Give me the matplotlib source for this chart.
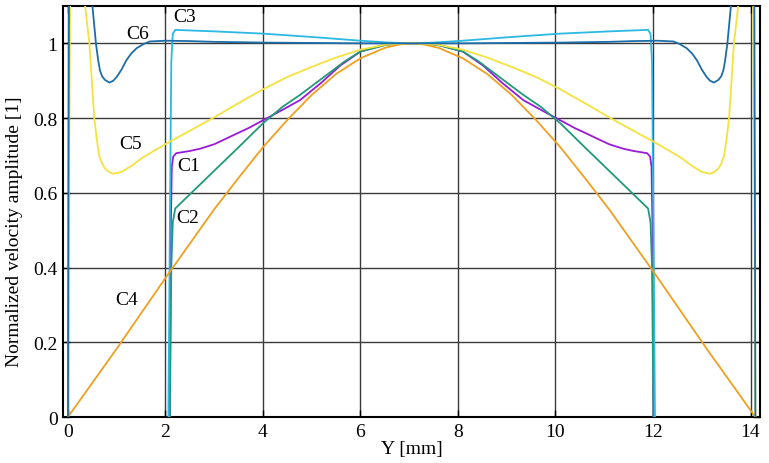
import matplotlib
matplotlib.use("Agg")
import matplotlib.pyplot as plt

# ---- data ----
c1_x = [2.09, 2.11, 2.13, 2.16, 2.22, 2.5, 2.71, 3.0, 3.39, 3.7, 4.0, 4.4, 4.76, 5.2, 5.58, 6.0, 6.5, 6.8, 7.05,
        7.3, 7.6, 8.1, 8.52, 8.9, 9.34, 9.7, 10.1, 10.4, 10.71, 11.1, 11.39, 11.6, 11.88, 11.94, 11.97, 11.99, 12.01]
c1_y = [0.0, 0.5, 0.67, 0.697, 0.706, 0.712, 0.718, 0.73, 0.754, 0.773, 0.794, 0.822, 0.848, 0.895, 0.94, 0.978, 0.996, 0.999, 1.0,
        0.999, 0.996, 0.978, 0.94, 0.895, 0.848, 0.822, 0.794, 0.773, 0.754, 0.73, 0.718, 0.712, 0.706, 0.697, 0.67, 0.5, 0.0]

c2_x = [2.09, 2.12, 2.15, 2.2, 3.0, 3.5, 4.0, 4.4, 4.76, 5.2, 5.68, 6.0, 6.5, 6.8, 7.05,
        7.3, 7.6, 8.1, 8.42, 8.9, 9.34, 9.7, 10.1, 10.6, 11.1, 11.9, 11.95, 11.98, 12.01]
c2_y = [0.0, 0.4, 0.52, 0.558, 0.659, 0.722, 0.786, 0.83, 0.862, 0.905, 0.952, 0.978, 0.995, 0.999, 1.0,
        0.999, 0.995, 0.978, 0.952, 0.905, 0.862, 0.83, 0.786, 0.722, 0.659, 0.558, 0.52, 0.4, 0.0]

c3_x = [2.06, 2.09, 2.12, 2.15, 2.2, 3.0, 4.0, 5.0, 6.0, 6.6, 7.05,
        7.5, 8.1, 9.1, 10.1, 11.1, 11.9, 11.95, 11.98, 12.01, 12.04]
c3_y = [0.0, 0.5, 0.95, 1.025, 1.036, 1.032, 1.026, 1.017, 1.007, 1.002, 1.0,
        1.002, 1.007, 1.017, 1.026, 1.032, 1.036, 1.025, 0.95, 0.5, 0.0]

c4_x = [0.0, 1.0, 2.0, 3.0, 3.5, 4.0, 4.5, 5.0, 5.5, 6.0, 6.5, 6.8, 7.05,
        7.3, 7.6, 8.1, 8.6, 9.1, 9.6, 10.1, 10.6, 11.1, 12.1, 13.1, 14.1]
c4_y = [0.0, 0.183, 0.372, 0.556, 0.64, 0.722, 0.795, 0.862, 0.918, 0.96, 0.988, 0.997, 1.0,
        0.997, 0.988, 0.96, 0.918, 0.862, 0.795, 0.722, 0.64, 0.556, 0.372, 0.183, 0.0]

c5_x = [0.0, 0.015, 0.045, 0.12, 0.25, 0.35, 0.44, 0.54, 0.59, 0.64, 0.7, 0.76, 0.85, 0.93, 1.1, 1.3, 1.54, 1.8, 2.09,
        2.5, 3.0, 3.5, 4.0, 4.5, 5.0, 5.5, 6.0, 6.5, 6.8, 7.05,
        7.3, 7.6, 8.1, 8.6, 9.1, 9.6, 10.1, 10.6, 11.1, 11.6, 12.01, 12.3, 12.56, 12.8, 13.0,
        13.17, 13.25, 13.34, 13.4, 13.46, 13.51, 13.56, 13.66, 13.75, 13.85, 13.98, 14.055, 14.085, 14.1]
c5_y = [0.0, 0.5, 1.1, 1.45, 1.35, 1.103, 1.0, 0.8, 0.745, 0.70, 0.678, 0.665, 0.655, 0.651, 0.656, 0.672, 0.695, 0.715, 0.737,
        0.766, 0.802, 0.84, 0.877, 0.91, 0.937, 0.962, 0.983, 0.996, 0.999, 1.0,
        0.999, 0.996, 0.983, 0.962, 0.937, 0.91, 0.877, 0.84, 0.802, 0.766, 0.737, 0.715, 0.695, 0.672, 0.656,
        0.651, 0.655, 0.665, 0.678, 0.70, 0.745, 0.8, 1.0, 1.103, 1.35, 1.45, 1.1, 0.5, 0.0]

c6_x = [0.0, 0.01, 0.03, 0.2, 0.42, 0.5, 0.574, 0.62, 0.656, 0.7, 0.76, 0.85, 0.93, 1.0, 1.1, 1.2, 1.3, 1.41,
        1.55, 1.68, 2.0, 2.5, 3.0, 4.0, 5.0, 6.0, 7.05,
        8.1, 9.1, 10.1, 11.1, 11.6, 12.1, 12.42, 12.55, 12.69, 12.8, 12.9, 13.0, 13.1, 13.17, 13.25,
        13.34, 13.4, 13.444, 13.48, 13.526, 13.6, 13.68, 13.9, 14.07, 14.09, 14.1]
c6_y = [0.0, 0.6, 1.5, 1.7, 1.25, 1.103, 1.0, 0.955, 0.928, 0.912, 0.902, 0.895, 0.9, 0.91, 0.93, 0.955, 0.973, 0.987,
        0.998, 1.005, 1.007, 1.006, 1.004, 1.002, 1.001, 1.0, 1.0,
        1.0, 1.001, 1.002, 1.004, 1.006, 1.007, 1.005, 0.998, 0.987, 0.973, 0.955, 0.93, 0.91, 0.9, 0.895,
        0.902, 0.912, 0.928, 0.955, 1.0, 1.103, 1.25, 1.7, 1.5, 0.6, 0.0]

series = [
    ("C1", c1_x, c1_y, "#9a1ad8"),
    ("C2", c2_x, c2_y, "#1f9a7a"),
    ("C3", c3_x, c3_y, "#2bb8e2"),
    ("C4", c4_x, c4_y, "#f0a020"),
    ("C5", c5_x, c5_y, "#f4e23e"),
    ("C6", c6_x, c6_y, "#1c6da8"),
]

labels = ["C1", "C2", "C3", "C4", "C5", "C6"]
label_x = [2.47, 2.45, 2.4, 1.2, 1.29, 1.42]
label_y = [0.674, 0.533, 1.072, 0.314, 0.732, 1.027]

x_ticks = [0, 2, 4, 6, 8, 10, 12, 14]
y_ticks = [0, 0.2, 0.4, 0.6, 0.8, 1.0]
y_ticklabels = ["0", "0.2", "0.4", "0.6", "0.8", "1"]

# ---- figure ----
plt.rcParams['font.family'] = ['Liberation Serif', 'DejaVu Serif']
fig = plt.figure(figsize=(7.69, 4.64), dpi=100)
ax = fig.add_axes([0.082, 0.099, 0.906, 0.886])

for name, xs, ys, col in series:
    ax.plot(xs, ys, color=col, lw=1.3, zorder=3)

for t, lx, ly in zip(labels, label_x, label_y):
    ax.text(lx, ly, t, fontsize=14, ha='center', va='center', zorder=4)

ax.set_xlim(-0.1, 14.19)
ax.set_ylim(0, 1.1)
ax.set_xticks(x_ticks)
ax.set_xticklabels([str(v) for v in x_ticks])
ax.set_yticks(y_ticks)
ax.set_yticklabels(y_ticklabels)
ax.grid(True, color='#3a3a3a', lw=1.0, zorder=1)
ax.set_axisbelow(True)
ax.tick_params(direction='in', length=5, width=1.0, top=True, right=True, labelsize=14, pad=4)
for sp in ax.spines.values():
    sp.set_linewidth(1.5)
    sp.set_color('black')

ax.set_xlabel("Y [mm]", fontsize=14, labelpad=0)
ax.set_ylabel("Normalized velocity amplitude [1]", fontsize=14)
ax.yaxis.set_label_coords(-0.058, 0.453)

fig.savefig("out.png", dpi=100)
